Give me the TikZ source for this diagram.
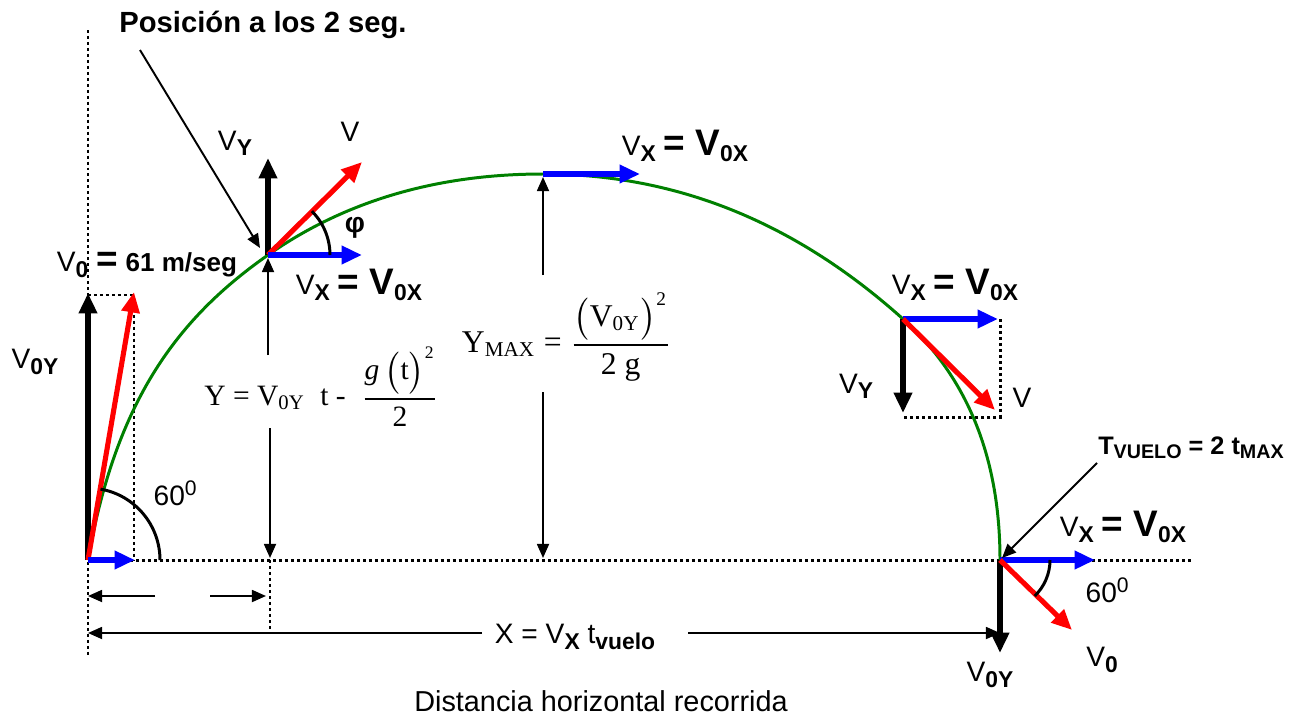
\documentclass[tikz,border=0pt]{standalone}
\usepackage{fontspec}
\setmainfont{Liberation Sans}
\newfontfamily\tnr{Liberation Serif}
\usetikzlibrary{arrows.meta}
\definecolor{trajgreen}{RGB}{0,128,0}
\newcommand\rs{\fontsize{8pt}{9.5pt}\selectfont}
\newcommand\sbx[1]{\raisebox{-0.35ex}{\fontsize{6.5pt}{7pt}\selectfont\bfseries #1}}
\newcommand\bigb[1]{{\fontsize{10.5pt}{12pt}\selectfont\bfseries #1}}
\newcommand\vxeq{V\sbx{X} \bigb{= V}\sbx{0X}}
\begin{document}
\begin{tikzpicture}[x=0.01cm,y=-0.01cm,
  vecbig/.style={line width=1.45pt,-{Triangle[length=5.8pt,width=5pt]}},
  thinarr/.style={line width=0.55pt,-{Triangle[length=4pt,width=3.4pt]}},
  dotline/.style={line width=0.85pt,dash pattern=on 0.85pt off 0.85pt},
  lbl/.style={inner sep=0pt,font=\rs}]
\useasboundingbox (0,0) rectangle (1300,715);
% key points
\coordinate (O) at (88,560);
\coordinate (P) at (268,255);
\coordinate (A) at (543,174);
\coordinate (Q) at (903,319);
\coordinate (L) at (1000,560);
% dotted guide lines
\coordinate (axT) at (88,30);
\coordinate (axB) at (88,655);
\coordinate (hzE) at (1192,560);
\coordinate (rc1) at (134,295);
\coordinate (rc0) at (88,295);
\coordinate (rc2) at (134,560);
\draw[dotline] (axT) -- (axB);
\draw[dotline] (O) -- (hzE);
\draw[dotline] (rc0) -- (rc1) -- (rc2);
\coordinate (pd1) at (270,560);
\coordinate (pd2) at (270,630);
\draw[dotline] (pd1) -- (pd2);
\coordinate (qd1) at (1000,319);
\coordinate (qd2) at (1000,417);
\coordinate (qd3) at (903,417);
\draw[dotline] (qd1) -- (qd2) -- (qd3);
% trajectory
\coordinate (c1) at (116,400);
\coordinate (c2) at (178,318);
\coordinate (c3) at (345,201);
\coordinate (c4) at (437,174);
\coordinate (c5) at (676,174);
\coordinate (c6) at (795,222);
\coordinate (c7) at (967,377);
\coordinate (c8) at (1000,457);
\draw[trajgreen,line width=0.85pt] (O) .. controls (c1) and (c2) .. (P)
  .. controls (c3) and (c4) .. (A) .. controls (c5) and (c6) .. (Q)
  .. controls (c7) and (c8) .. (L);
% launch vectors
\coordinate (O1) at (88,293);
\coordinate (O2) at (134,292);
\coordinate (O3) at (135,560);
\draw[vecbig] (O) -- (O1);
\draw[vecbig,red] (O) -- (O2);
\draw[vecbig,blue] (O) -- (O3);
\begin{scope}[shift={(88,560)},x=0.01cm,y=0.01cm]
\draw[line width=0.85pt] (80:72) arc[start angle=80,end angle=0,radius=72];
\end{scope}
% point at 2 s
\coordinate (P1) at (268,158);
\coordinate (P2) at (362,162);
\coordinate (P3) at (362,255);
\draw[vecbig] (P) -- (P1);
\draw[vecbig,red] (P) -- (P2);
\draw[vecbig,blue] (P) -- (P3);
\begin{scope}[shift={(268,255)},x=0.01cm,y=0.01cm]
\draw[line width=0.85pt] (45:62) arc[start angle=45,end angle=0,radius=62];
\end{scope}
% apex
\coordinate (A1) at (640,174);
\draw[vecbig,blue] (A) -- (A1);
% point Q
\coordinate (Q1) at (998,319);
\coordinate (Q2) at (903,413);
\coordinate (Q3) at (995,410);
\draw[vecbig,blue] (Q) -- (Q1);
\draw[vecbig] (Q) -- (Q2);
\draw[vecbig,red] (Q) -- (Q3);
% landing
\coordinate (L1) at (1095,560);
\coordinate (L2) at (1000,653);
\coordinate (L3) at (1072,630);
\draw[vecbig,blue] (L) -- (L1);
\draw[vecbig] (L) -- (L2);
\draw[vecbig,red] (L) -- (L3);
\begin{scope}[shift={(1000,560)},x=0.01cm,y=0.01cm]
\draw[line width=0.85pt] (0:50) arc[start angle=0,end angle=-46,radius=50];
\end{scope}
% labels
\node[lbl,font=\bfseries\fontsize{8.3pt}{10pt}\selectfont] (tpos) at (263,25) {Posición a los 2 seg.};
\coordinate (tposA) at (140,50);
\coordinate (tposB) at (260,248);
\draw[thinarr] (tposA) -- (tposB);
\node[lbl] (lvy1) at (235,143) {V\sbx{Y}};
\node[lbl] (lv1) at (350,132) {V};
\node[lbl,font=\bfseries\fontsize{8pt}{9pt}\selectfont] (lphi) at (355,228) {φ};
\node[lbl] (lvx1) at (359,285) {\vxeq};
\node[lbl] (lv0) at (147,265) {V\sbx{0} \bigb{=} {\bfseries\fontsize{7.4pt}{9pt}\selectfont 61 m/seg}};
\node[lbl] (lv0y1) at (35,362) {V\sbx{0Y}};
\node[lbl] (l60a) at (176,493) {60\textsuperscript{0}};
\node[lbl] (lvx2) at (685,146) {\vxeq};
\node[lbl] (lvx3) at (955,285) {\vxeq};
\node[lbl] (lvy2) at (856,386) {V\sbx{Y}};
\node[lbl] (lv2) at (1022,398) {V};
\node[lbl,font=\bfseries\fontsize{7.2pt}{9pt}\selectfont] (ltv) at (1191,448) {T\raisebox{-0.3ex}{\fontsize{5.6pt}{6pt}\selectfont VUELO} = 2 t\raisebox{-0.3ex}{\fontsize{5.6pt}{6pt}\selectfont MAX}};
\coordinate (tvA) at (1097,463);
\coordinate (tvB) at (1002,558);
\draw[thinarr] (tvA) -- (tvB);
\node[lbl] (lvx4) at (1123,527) {\vxeq};
\node[lbl] (l60b) at (1108,590) {60\textsuperscript{0}};
\node[lbl] (lv0b) at (1102,660) {V\sbx{0}};
\node[lbl] (lv0y2) at (990,675) {V\sbx{0Y}};
% height formulas
\node[lbl,font=\tnr\fontsize{8.4pt}{10pt}\selectfont] (fy) at (322,387)
 {Y = V\textsubscript{0Y}\ \ t -\ \ $\displaystyle\frac{\hbox{\tnr\fontsize{8.4pt}{10pt}\selectfont\itshape g\,}\bigl(\hbox{\tnr\fontsize{8.4pt}{10pt}\selectfont t}\bigr)^{\hbox{\tnr\fontsize{5pt}{6pt}\selectfont 2}}}{\hbox{\tnr\fontsize{8.4pt}{10pt}\selectfont 2}}$};
\coordinate (fyA) at (268,355);
\coordinate (fyB) at (268,258);
\coordinate (fyC) at (270,428);
\coordinate (fyD) at (270,558);
\draw[thinarr] (fyA) -- (fyB);
\draw[thinarr] (fyC) -- (fyD);
\node[lbl,font=\tnr\fontsize{9pt}{10pt}\selectfont] (fym) at (567,337)
 {Y\textsubscript{MAX} = $\displaystyle\frac{\bigl(\hbox{\tnr\fontsize{9pt}{10pt}\selectfont V\textsubscript{0Y}}\bigr)^{\hbox{\tnr\fontsize{5.5pt}{6pt}\selectfont 2}}}{\hbox{\tnr\fontsize{9pt}{10pt}\selectfont 2 g}}$};
\coordinate (ymA) at (543,275);
\coordinate (ymB) at (543,177);
\coordinate (ymC) at (543,392);
\coordinate (ymD) at (543,558);
\draw[thinarr] (ymA) -- (ymB);
\draw[thinarr] (ymC) -- (ymD);
% distance arrows
\coordinate (d1a) at (155,596);
\coordinate (d1b) at (88,596);
\coordinate (d2a) at (210,596);
\coordinate (d2b) at (266,596);
\draw[thinarr] (d1a) -- (d1b);
\draw[thinarr] (d2a) -- (d2b);
\node[lbl] (lX) at (575,637) {X = V\sbx{X} t\sbx{vuelo}};
\coordinate (xa) at (482,633);
\coordinate (xb) at (88,633);
\coordinate (xc) at (688,633);
\coordinate (xd) at (1000,633);
\draw[thinarr] (xa) -- (xb);
\draw[thinarr] (xc) -- (xd);
\node[lbl,font=\fontsize{8.2pt}{10pt}\selectfont] (ldist) at (601,701) {Distancia horizontal recorrida};
\end{tikzpicture}
\end{document}
